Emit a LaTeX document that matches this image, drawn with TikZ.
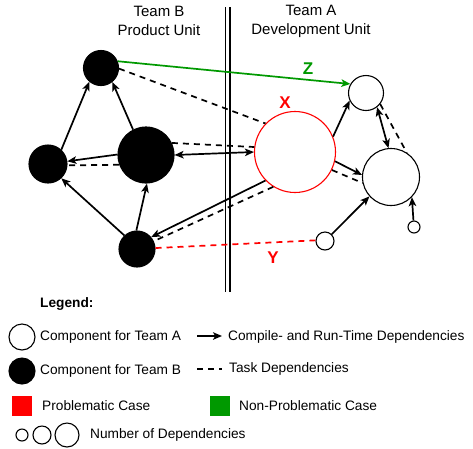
\documentclass[tikz,border=0pt]{standalone}
\usepackage{fontspec}
\setmainfont{Liberation Sans}
\usetikzlibrary{arrows.meta}
\definecolor{probred}{RGB}{255,0,0}
\definecolor{okgreen}{RGB}{0,153,0}
\tikzset{
  compA/.style={circle,draw=black,fill=white,line width=1.1pt,inner sep=0pt},
  compB/.style={circle,draw=black,fill=black,line width=1.1pt,inner sep=0pt},
  dep/.style={line width=1.7pt,-{Stealth[length=9pt,width=7.5pt,inset=2.2pt]}},
  bidep/.style={line width=1.7pt,{Stealth[length=9pt,width=7.5pt,inset=2.2pt]}-{Stealth[length=9pt,width=7.5pt,inset=2.2pt]}},
  taskdep/.style={line width=1.7pt,dash pattern=on 6pt off 5pt},
  lbl/.style={font=\fontsize{17}{19}\selectfont\bfseries},
  legtxt/.style={font=\fontsize{13.7}{16}\selectfont,anchor=west,inner sep=0pt},
  teamtxt/.style={font=\fontsize{15}{19}\selectfont,align=center,inner sep=0pt}
}
\begin{document}
\begin{tikzpicture}[x=1pt,y=-1pt]
\useasboundingbox (0,0) rectangle (473,448);
% team labels
\node[teamtxt] (tb) at (159,21) {Team B\\Product Unit};
\node[teamtxt] (ta) at (311,21) {Team A\\Development Unit};
% separator
\draw[line width=1.5pt] (225.7,7) -- (225.7,292);
\draw[line width=1.5pt] (230,7) -- (230,292);
% components team B
\node[compB,minimum size=35pt] (B1) at (101,68) {};
\node[compB,minimum size=38pt] (B2) at (48,164) {};
\node[compB,minimum size=56pt] (B3) at (146,155) {};
\node[compB,minimum size=36pt] (B4) at (137,249) {};
% components team A
\node[compA,draw=probred,minimum size=81pt] (X) at (295,152) {};
\node[compA,minimum size=35pt] (A1) at (366,93) {};
\node[compA,minimum size=57pt] (A2) at (391,177) {};
\node[compA,minimum size=18pt] (A3) at (325,241) {};
\node[compA,minimum size=12pt] (A4) at (414,227) {};
% labels
\node[lbl,text=probred] (lx) at (285,103) {X};
\node[lbl,text=okgreen] (lz) at (308,69) {Z};
\node[lbl,text=probred] (ly) at (273,258) {Y};
% team B internal
\draw[dep] (B2.47) -- (B1.230);
\draw[dep] (B3.117) -- (B1.309);
\draw[dep] (B3.179) -- (B2.8);
\draw[taskdep] (B3.200) -- (B2.-4);
\draw[dep] (B4.133) -- (B2.313);
\draw[dep] (B4.92) -- (B3.272);
% cross-team
\draw[dep,okgreen] (B1.22) -- (A1.150);
\draw[taskdep] (B1.-2) -- (X.136);
\draw[bidep] (B3.0) -- (X.180);
\draw[taskdep] (B3.25) -- (X.173);
\draw[dep] (X.224) -- (B4.40);
\draw[taskdep] (X.238) -- (B4.25);
\draw[taskdep,probred] (B4.3) -- (A3.176);
% team A internal
\draw[dep] (X.22) -- (A1.205);
\draw[dep] (X.-13) -- (A2.176);
\draw[taskdep] (X.-26) -- (A2.192);
\draw[bidep] (A1.-52) -- (A2.95);
\draw[taskdep] (A1.-38) -- (A2.57);
\draw[dep] (A3.45) -- (A2.222);
\draw[dep] (A4.95) -- (A2.316);
% legend
\node[legtxt,font=\fontsize{13.7}{16}\selectfont\bfseries] (leg) at (40,304) {Legend:};
\node[compA,minimum size=26pt] (lA) at (22,337) {};
\node[legtxt] (tA) at (40,337) {Component for Team A};
\node[compB,minimum size=26pt] (lB) at (22,371) {};
\node[legtxt] (tB) at (40,371) {Component for Team B};
\coordinate (d1s) at (197,336);
\coordinate (d1e) at (222,336);
\draw[dep] (d1s) -- (d1e);
\node[legtxt] (tdep) at (228,337) {Compile- and Run-Time Dependencies};
\coordinate (d2s) at (197,369);
\coordinate (d2e) at (222,369);
\draw[taskdep] (d2s) -- (d2e);
\node[legtxt] (ttask) at (229,369) {Task Dependencies};
\node[fill=probred,minimum size=20pt,inner sep=0pt] (sq1) at (22,406) {};
\node[legtxt] (tprob) at (42,406) {Problematic Case};
\node[fill=okgreen,minimum size=20pt,inner sep=0pt] (sq2) at (220,406) {};
\node[legtxt] (tok) at (239,406) {Non-Problematic Case};
\node[compA,minimum size=12pt] (s1) at (22,435) {};
\node[compA,minimum size=18pt] (s2) at (42,435) {};
\node[compA,minimum size=24pt] (s3) at (67,435) {};
\node[legtxt] (tnum) at (90,435) {Number of Dependencies};
\end{tikzpicture}
\end{document}
